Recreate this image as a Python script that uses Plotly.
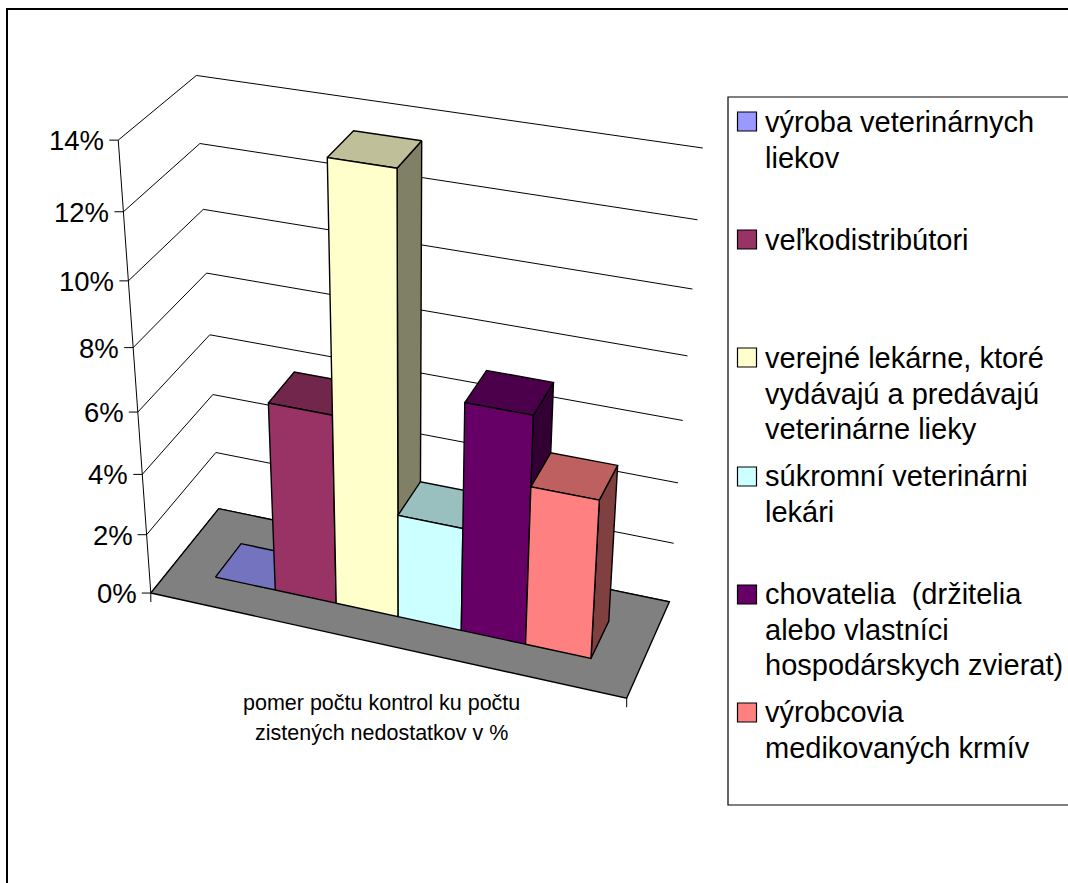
import numpy as np
import plotly.graph_objects as go

# ---- data -------------------------------------------------------------
categories = ["výroba veterinárnych liekov", "veľkodistribútori",
              "verejné lekárne, ktoré vydávajú a predávajú veterinárne lieky",
              "súkromní veterinárni lekári",
              "chovatelia (držitelia alebo vlastníci hospodárskych zvierat)",
              "výrobcovia medikovaných krmív"]
values = [0.0, 6.2, 13.75, 3.4, 7.35, 5.15]
colors = ["#9999FF", "#993366", "#FFFFCC", "#CCFFFF", "#660066", "#FF8080"]
tick_values = [0, 2, 4, 6, 8, 10, 12, 14]
axis_title = ["pomer počtu kontrol ku počtu", "zistených nedostatkov v %"]
legend_lines = [["výroba veterinárnych", "liekov"],
                ["veľkodistribútori"],
                ["verejné lekárne, ktoré", "vydávajú a predávajú", "veterinárne lieky"],
                ["súkromní veterinárni", "lekári"],
                ["chovatelia  (držitelia", "alebo vlastníci", "hospodárskych zvierat)"],
                ["výrobcovia", "medikovaných krmív"]]

# ---- 3D view of the chart box, solved from the box corners on the page --
world = np.array([
    (0, 0, 0), (0, 0, 2), (0, 0, 4), (0, 0, 6), (0, 0, 8), (0, 0, 10), (0, 0, 12), (0, 0, 14),
    (0, 1, 0), (0, 1, 2), (0, 1, 4), (0, 1, 6), (0, 1, 8), (0, 1, 10), (0, 1, 12), (0, 1, 14),
    (1, 1, 0), (1, 1, 2), (1, 1, 4), (1, 1, 6), (1, 1, 14), (1, 0, 0)], float)
page = np.array([
    (150.7, 594.3), (146.7, 534.3), (141.7, 473.3), (137.7, 412.3), (133.3, 347.3), (128.3, 280), (124, 212.3), (118.3, 140.7),
    (219.3, 509), (215.3, 452.7), (214, 393.7), (210, 335), (205.7, 273.3), (204, 208.3), (199.3, 145.3), (195.7, 74.7),
    (668.7, 602.3), (673, 542), (679, 483), (683, 421), (703, 148), (626.7, 698.3)], float)
rows, rhs = [], []
for (X, Y, Z), (u, v) in zip(world, page):
    rows.append([X, Y, Z, 1, 0, 0, 0, 0, -u * X, -u * Y, -u * Z]); rhs.append(u)
    rows.append([0, 0, 0, 0, X, Y, Z, 1, -v * X, -v * Y, -v * Z]); rhs.append(v)
P = np.append(np.linalg.lstsq(np.array(rows), np.array(rhs), rcond=None)[0], 1).reshape(3, 4)


def proj(pts):
    q = P @ np.c_[np.array(pts, float), np.ones(len(pts))].T
    return list(q[0] / q[2]), list(q[1] / q[2])


def shade(hex_color, k):
    r, g, b = (int(hex_color[i:i + 2], 16) for i in (1, 3, 5))
    return f"rgb({round(r * k)},{round(g * k)},{round(b * k)})"


fig = go.Figure()


def line(pts, width=1.0):
    x, y = proj(pts)
    fig.add_trace(go.Scatter(x=x, y=y, mode="lines", line=dict(color="black", width=width),
                             hoverinfo="skip", showlegend=False))


def face(pts, fill, name=None, width=1.4):
    x, y = proj(pts + pts[:1])
    fig.add_trace(go.Scatter(x=x, y=y, mode="lines", fill="toself", fillcolor=fill, name=name,
                             line=dict(color="black", width=width), hoverinfo="name" if name else "skip",
                             showlegend=False))


# gridlines on the walls, left edge, floor
for t in tick_values:
    line([(0, 0, t), (0, 1, t), (1, 1, t)])
line([(0, 0, 0), (0, 0, 14)])
face([(0, 0, 0), (1, 0, 0), (1, 1, 0), (0, 1, 0)], "#808080")

# tick marks and labels
for t in tick_values:
    x, y = proj([(0, 0, t)])
    fig.add_shape(type="line", x0=x[0] - 9, x1=x[0], y0=y[0], y1=y[0], line=dict(color="black", width=1))
    fig.add_annotation(x=x[0] - 12, y=y[0] + 0.5, text=f"{t}%", xanchor="right", yanchor="middle", showarrow=False,
                       font=dict(size=27.5, color="black", family="Liberation Sans"))
x, y = proj([(0, 0, 0), (1, 0, 0)])
for xi, yi in zip(x, y):
    fig.add_shape(type="line", x0=xi, x1=xi, y0=yi, y1=yi + 9, line=dict(color="black", width=1))

# columns, painted left to right
X0, W, Y0, Y1 = 0.10, 0.1337, 0.29, 0.68
for i, (v, c, n) in enumerate(zip(values, colors, categories)):
    a, b = X0 + i * W, X0 + (i + 1) * W
    if v > 0:
        face([(b, Y0, 0), (b, Y1, 0), (b, Y1, v), (b, Y0, v)], shade(c, 0.5), n)
        face([(a, Y0, v), (b, Y0, v), (b, Y1, v), (a, Y1, v)], shade(c, 0.75), n)
        face([(a, Y0, 0), (b, Y0, 0), (b, Y0, v), (a, Y0, v)], c, n)
    else:
        face([(a, Y0, 0), (b, Y0, 0), (b, Y1, 0), (a, Y1, 0)], shade(c, 0.75), n)

# category label
for txt, yy in zip(axis_title, (703, 733)):
    fig.add_annotation(x=381.5, y=yy, text=txt, xanchor="center", yanchor="middle", showarrow=False,
                       font=dict(size=21.5, color="black", family="Liberation Sans"))

# outer frame and legend box
fig.add_shape(type="rect", x0=7, y0=9, x1=1090, y1=900, line=dict(color="black", width=2), layer="below")
fig.add_shape(type="rect", x0=728, y0=97, x1=1090, y1=805, line=dict(color="black", width=1.2), layer="below")

swatch_tops = [112, 230, 348, 467, 585, 703]
first_line_y = [122, 240, 358, 476, 594, 712]
for top, y0, lines, c in zip(swatch_tops, first_line_y, legend_lines, colors):
    fig.add_shape(type="rect", x0=737.5, x1=756.5, y0=top, y1=top + 19, fillcolor=c,
                  line=dict(color="black", width=1.2))
    for k, txt in enumerate(lines):
        fig.add_annotation(x=763, y=y0 + k * 35.5, text=txt, xanchor="left", yanchor="middle", showarrow=False,
                           font=dict(size=29, color="black", family="Liberation Sans"))

fig.update_layout(width=1068, height=883, margin=dict(l=0, r=0, t=0, b=0), autosize=False,
                  paper_bgcolor="white", plot_bgcolor="white", showlegend=False,
                  xaxis=dict(range=[0, 1068], visible=False, fixedrange=True),
                  yaxis=dict(range=[883, 0], visible=False, fixedrange=True))
fig.write_html("out.html", config=dict(displayModeBar=False),
               post_script="document.body.style.margin='0';document.body.style.overflow='hidden';")
